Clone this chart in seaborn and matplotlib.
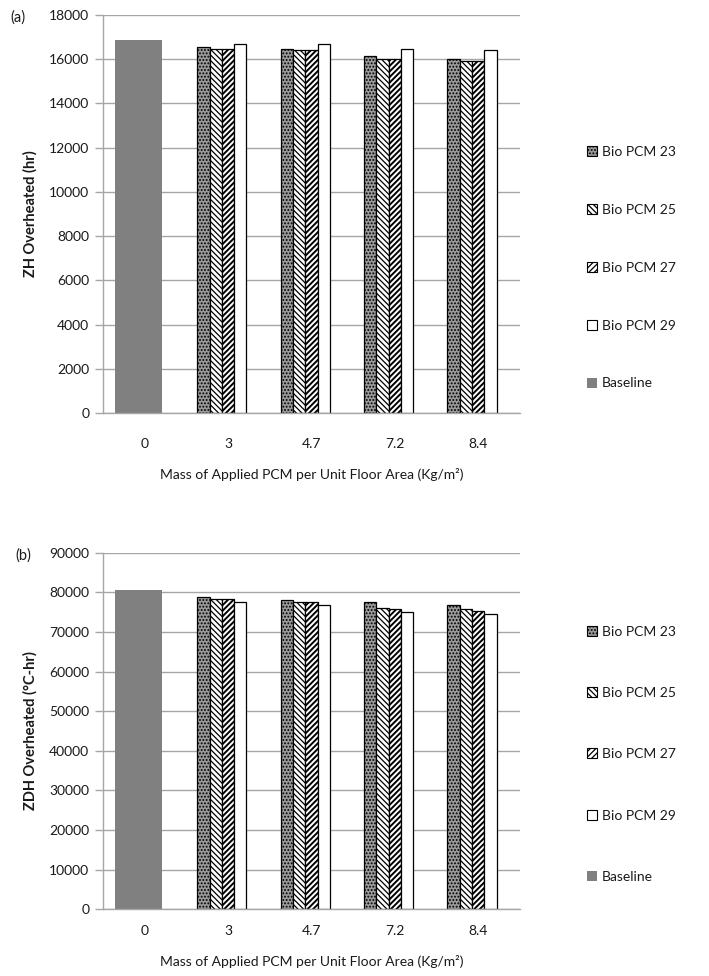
import pandas as pd
import numpy as np
import matplotlib
matplotlib.use('Agg')
import matplotlib.pyplot as plt
from matplotlib.patches import Patch
import seaborn as sns

# categories and series
mass_labels = ['0', '3', '4.7', '7.2', '8.4']
pcm_masses = ['3', '4.7', '7.2', '8.4']
series_names = ['Bio PCM 23', 'Bio PCM 25', 'Bio PCM 27', 'Bio PCM 29']

# (a) ZH overheated (hr)
zh_baseline = [16870]
zh_pcm23 = [16550, 16460, 16150, 16000]
zh_pcm25 = [16470, 16400, 16020, 15900]
zh_pcm27 = [16470, 16400, 16020, 15900]
zh_pcm29 = [16700, 16700, 16460, 16400]

# (b) ZDH overheated (degC-hr)
zdh_baseline = [80700]
zdh_pcm23 = [78900, 78100, 77500, 76800]
zdh_pcm25 = [78200, 77500, 76100, 75700]
zdh_pcm27 = [78200, 77500, 75700, 75400]
zdh_pcm29 = [77500, 76900, 75100, 74500]

sns.set_style('white')
plt.rcParams['font.family'] = ['Lato', 'DejaVu Sans']
plt.rcParams['hatch.linewidth'] = 0.9

# styles for each series: facecolor, hatch, hatch linewidth
styles = {
    'Bio PCM 23': ('#9a9a9a', '.....', 0.9),
    'Bio PCM 25': ('white', '\\' * 6, 0.9),
    'Bio PCM 27': ('white', '/' * 6, 1.4),
    'Bio PCM 29': ('white', '', 0.9),
}
grid_col = '#a6a6a6'
text_col = '#1a1a1a'


def style_patch(p, name):
    fc, h, lw = styles[name]
    p.set_facecolor(fc)
    p.set_hatch(h)
    p.set_edgecolor('black')
    try:
        p.set_hatch_linewidth(lw)
    except AttributeError:
        pass


def make_frames(baseline, s23, s25, s27, s29):
    base_df = pd.DataFrame({'mass': ['0'], 'value': baseline})
    rows = []
    for name, vals in zip(series_names, [s23, s25, s27, s29]):
        for m, v in zip(pcm_masses, vals):
            rows.append({'mass': m, 'series': name, 'value': v})
    return base_df, pd.DataFrame(rows)


def draw_panel(ax, base_df, pcm_df, ymax, ystep, ylabel, tag, tag_x, labelpad_x,
               legend_spacing, legend_y):
    sns.barplot(data=base_df, x='mass', y='value', order=mass_labels,
                color='#808080', width=0.57, errorbar=None, ax=ax,
                saturation=1, linewidth=0, zorder=2)
    sns.barplot(data=pcm_df, x='mass', y='value', hue='series', order=mass_labels,
                hue_order=series_names, width=0.59, errorbar=None, ax=ax,
                palette=['white'] * 4, saturation=1, edgecolor='black',
                linewidth=0.9, zorder=2)
    for cont, name in zip(ax.containers[1:], series_names):
        for p in cont:
            style_patch(p, name)
    # Excel-like small left offset of clusters
    for p in ax.patches:
        p.set_x(p.get_x() - 0.075)

    ax.set_xlim(-0.5, 4.5)
    ax.set_ylim(0, ymax)
    ax.set_yticks(np.arange(0, ymax + 1, ystep))
    ax.yaxis.grid(True, color=grid_col, linewidth=1.0, zorder=0)
    ax.set_axisbelow(True)
    ax.set_xticks(np.arange(-0.5, 5, 1), minor=True)
    ax.tick_params(axis='x', which='major', length=0, pad=labelpad_x,
                   labelsize=10, labelcolor=text_col)
    ax.tick_params(axis='x', which='minor', length=6, color=grid_col, width=1,
                   direction='out')
    ax.tick_params(axis='y', length=6, color=grid_col, width=1, direction='out',
                   pad=4, labelsize=10, labelcolor=text_col, left=True)
    for side in ['top', 'right']:
        ax.spines[side].set_visible(False)
    for side in ['left', 'bottom']:
        ax.spines[side].set_color(grid_col)
        ax.spines[side].set_linewidth(1.0)

    ax.set_ylabel(ylabel, fontsize=10.5, fontweight='bold', color=text_col, labelpad=8)
    ax.set_xlabel('Mass of Applied PCM per Unit Floor Area (Kg/m\u00b2)',
                  fontsize=10, color=text_col, labelpad=13)

    handles = []
    for name in series_names:
        fc, h, lw = styles[name]
        handles.append(Patch(facecolor=fc, hatch=h, edgecolor='black', linewidth=0.8))
    handles.append(Patch(facecolor='#808080', edgecolor='none'))
    if ax.get_legend() is not None:
        ax.get_legend().remove()
    ax.legend(handles=handles, labels=series_names + ['Baseline'],
              loc='center left', bbox_to_anchor=(1.13, legend_y), frameon=False,
              handlelength=0.75, handleheight=0.75, handletextpad=0.35,
              labelspacing=legend_spacing, fontsize=10, labelcolor=text_col)
    ax.text(tag_x, 0.993, tag, transform=ax.transAxes, fontsize=10.5,
            color=text_col, ha='left', va='center')


fig = plt.figure(figsize=(7.09, 9.76), dpi=100)
ax1 = fig.add_axes([0.1453, 0.5768, 0.588, 0.4078])
ax2 = fig.add_axes([0.1453, 0.0683, 0.588, 0.3654])

b_df, p_df = make_frames(zh_baseline, zh_pcm23, zh_pcm25, zh_pcm27, zh_pcm29)
draw_panel(ax1, b_df, p_df, 18000, 2000, 'ZH Overheated (hr)', '(a)', -0.223, 18, 3.3, 0.365)

b_df, p_df = make_frames(zdh_baseline, zdh_pcm23, zdh_pcm25, zdh_pcm27, zdh_pcm29)
draw_panel(ax2, b_df, p_df, 90000, 10000, 'ZDH Overheated (\u00b0C-hr)', '(b)', -0.21, 11, 3.55, 0.435)

fig.savefig('out.png', dpi=100)
